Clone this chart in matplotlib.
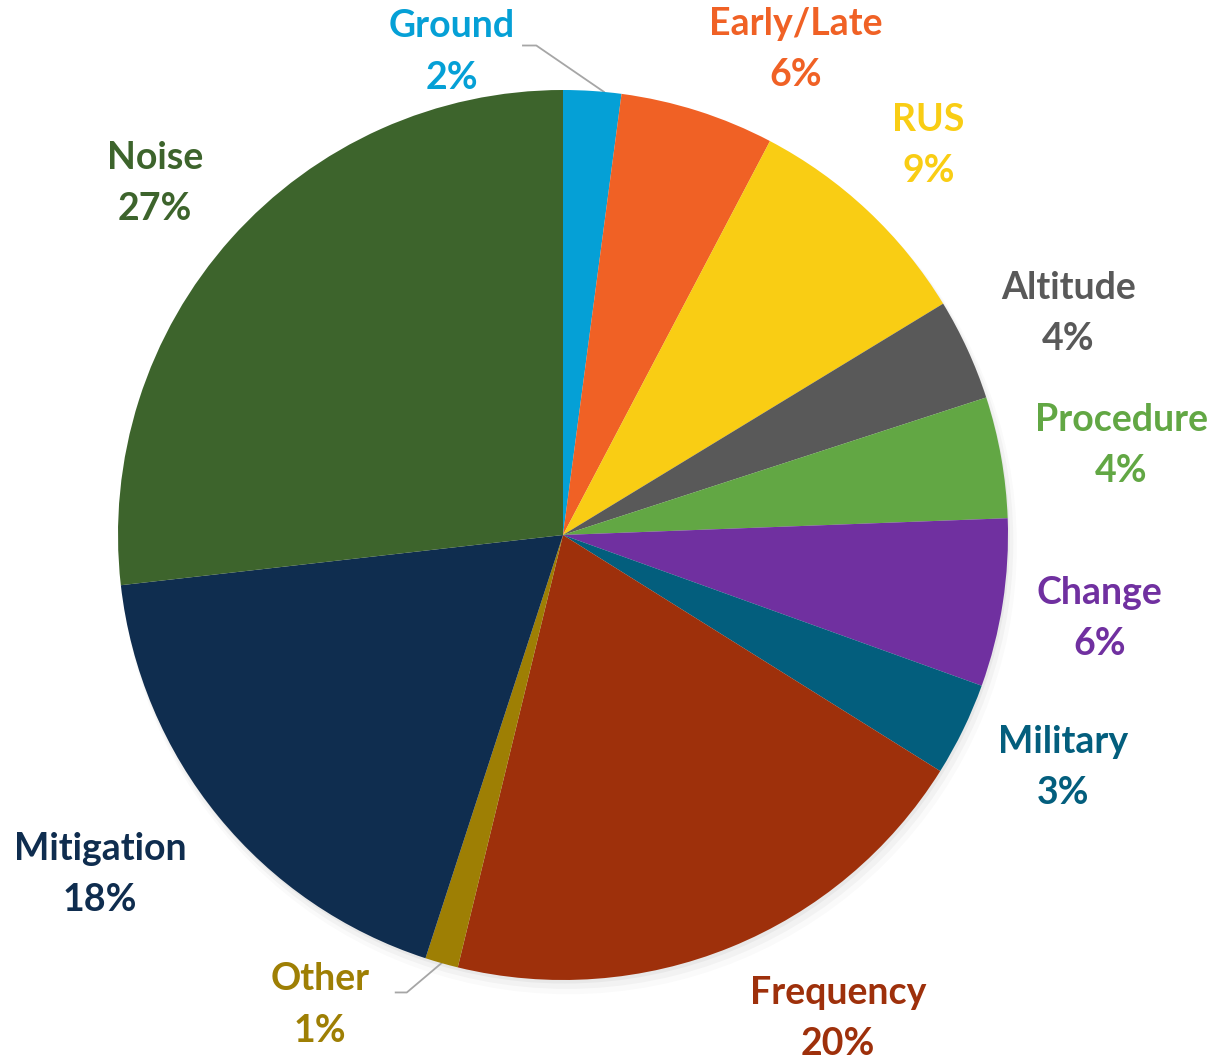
import numpy as np
import matplotlib.pyplot as plt

categories = ['Ground', 'Early/Late', 'RUS', 'Altitude', 'Procedure', 'Change',
              'Military', 'Frequency', 'Other', 'Mitigation', 'Noise']
shares = [2.1, 5.6, 8.6, 3.7, 4.4, 6.1, 3.4, 19.9, 1.2, 18.2, 26.8]
colors = ['#05A0D6', '#F06125', '#F9CD14', '#595959', '#62A744', '#7030A0',
          '#035E7D', '#9E300B', '#9E7F04', '#0F2D4F', '#3D642C']

plt.rcParams['font.family'] = ['Lato', 'DejaVu Sans']

fig = plt.figure(figsize=(12.17, 10.60), dpi=100)
ax = fig.add_axes([0, 0, 1, 1])
R = 445.0

# soft shadow
for i, a in enumerate([0.04, 0.03, 0.02]):
    ax.add_patch(plt.Circle((0.004 * (i + 1), -0.008 * (i + 1)), 1.0 + 0.004 * i,
                            color='black', alpha=a, lw=0, zorder=0))

wedges, _ = ax.pie(shares, colors=colors, startangle=90, counterclock=False,
                   radius=1.0, wedgeprops=dict(linewidth=0))
for w in wedges:
    w.set_zorder(2)

# pie() resets limits, so set them afterwards
ax.set_xlim(-563 / R, (1217 - 563) / R)
ax.set_ylim(-(1060 - 535) / R, 535 / R)
ax.set_aspect('equal')
ax.axis('off')

total = sum(shares)
cum = np.cumsum([0] + shares)
# label tweaks: (angle shift in degrees clockwise, radial distance)
tweak = {'Ground': None, 'Other': None,
         'Early/Late': (8, 1.21), 'RUS': (0, 1.20), 'Altitude': (1, 1.24),
         'Procedure': (1, 1.27), 'Change': (0, 1.22), 'Military': (-1, 1.24),
         'Frequency': (-7.5, 1.25), 'Mitigation': (3, 1.29), 'Noise': (-1, 1.21)}

for name, v, c, start in zip(categories, shares, colors, cum[:-1]):
    mid = (start + v / 2) / total * 360
    label = f'{name}\n{round(v / total * 100):.0f}%'
    t = tweak[name]
    if t is None:
        # labels with leader lines
        if name == 'Ground':
            tx, ty = -0.25, 1.085
            lx = [tx + 0.16, tx + 0.19]
            ly = [1.10, 1.10]
            ex, ey = np.sin(np.radians(mid + 1.5)), np.cos(np.radians(mid + 1.5))
        else:
            tx, ty = -0.546, -1.056
            lx = [tx + 0.17, tx + 0.195]
            ly = [-1.028, -1.028]
            ex, ey = np.sin(np.radians(mid)), np.cos(np.radians(mid))
        ax.plot(lx + [ex], ly + [ey], color='#A6A6A6', lw=1.3, zorder=1)
    else:
        ang = np.radians(mid + t[0])
        tx, ty = t[1] * np.sin(ang), t[1] * np.cos(ang)
    ax.text(tx, ty, label, ha='center', va='center', color=c, fontsize=27,
            fontweight='bold', linespacing=1.62, zorder=3)

fig.savefig('out.png', dpi=100)
